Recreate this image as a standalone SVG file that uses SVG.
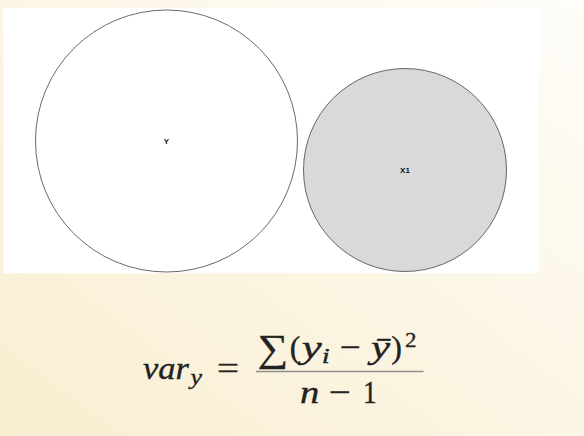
<svg xmlns="http://www.w3.org/2000/svg" width="584" height="436" viewBox="0 0 584 436">
  <defs>
    <linearGradient id="bg" x1="0" y1="1" x2="1" y2="0">
      <stop offset="0" stop-color="#f8eed0"/>
      <stop offset="0.55" stop-color="#fcf6e6"/>
      <stop offset="1" stop-color="#fefdf9"/>
    </linearGradient>
  </defs>
  <style>
    .node { stroke: #444444; stroke-width: 0.8; }
    .lbl { font-family: "Liberation Sans", Arial, sans-serif; font-weight: bold; font-size: 8px; fill: #111; text-anchor: middle; dominant-baseline: central; }
    .m { font-family: "Liberation Serif", "Times New Roman", serif; fill: #222222; stroke: #222222; stroke-width: 0.35; }
    .it { font-style: italic; }
    .big { font-size: 32px; }
    .sm { font-size: 22px; }
    .c { text-anchor: middle; }
  </style>
  <rect x="0" y="0" width="584" height="436" fill="url(#bg)"/>
  <rect x="3.5" y="7.7" width="535.5" height="265.6" fill="#ffffff"/>

  <g id="connectors"></g>

  <g id="node-Y">
    <circle class="node" cx="166.5" cy="141" r="131" fill="#ffffff"/>
    <text class="lbl" x="166.5" y="141.5">Y</text>
  </g>
  <g id="node-X1">
    <circle class="node" cx="405" cy="170" r="101.5" fill="#d9d9d9"/>
    <text class="lbl" x="405" y="170.5">X1</text>
  </g>

  <g id="formula">
    <text class="m it big" x="143" y="378.5" textLength="46" lengthAdjust="spacingAndGlyphs">var</text>
    <text class="m it sm" x="190.5" y="384" textLength="11.5" lengthAdjust="spacingAndGlyphs">y</text>
    <text class="m big c" x="228" y="378.5" textLength="22" lengthAdjust="spacingAndGlyphs">=</text>

    <text class="m c" x="273" y="361" font-size="38" textLength="30.6" lengthAdjust="spacingAndGlyphs">∑</text>
    <text class="m big c" x="295" y="358">(</text>
    <text class="m it big" x="301.7" y="358" textLength="20" lengthAdjust="spacingAndGlyphs">y</text>
    <text class="m it sm" x="321.7" y="363" textLength="8" lengthAdjust="spacingAndGlyphs">i</text>
    <text class="m big c" x="350" y="358" textLength="21" lengthAdjust="spacingAndGlyphs">−</text>
    <text class="m it big" x="371" y="358" textLength="19" lengthAdjust="spacingAndGlyphs">ȳ</text>
    <text class="m big c" x="396.7" y="358">)</text>
    <text class="m sm c" x="410.8" y="347" textLength="11.5" lengthAdjust="spacingAndGlyphs">2</text>

    <line x1="256" y1="371.5" x2="423.5" y2="371.5" stroke="#8f8f8f" stroke-width="1.4"/>

    <text class="m it big" x="300" y="402.7" textLength="19.3" lengthAdjust="spacingAndGlyphs">n</text>
    <text class="m big c" x="339.5" y="402.7" textLength="22" lengthAdjust="spacingAndGlyphs">−</text>
    <text class="m big c" x="369.9" y="402.7" textLength="13.7" lengthAdjust="spacingAndGlyphs">1</text>
  </g>
</svg>
